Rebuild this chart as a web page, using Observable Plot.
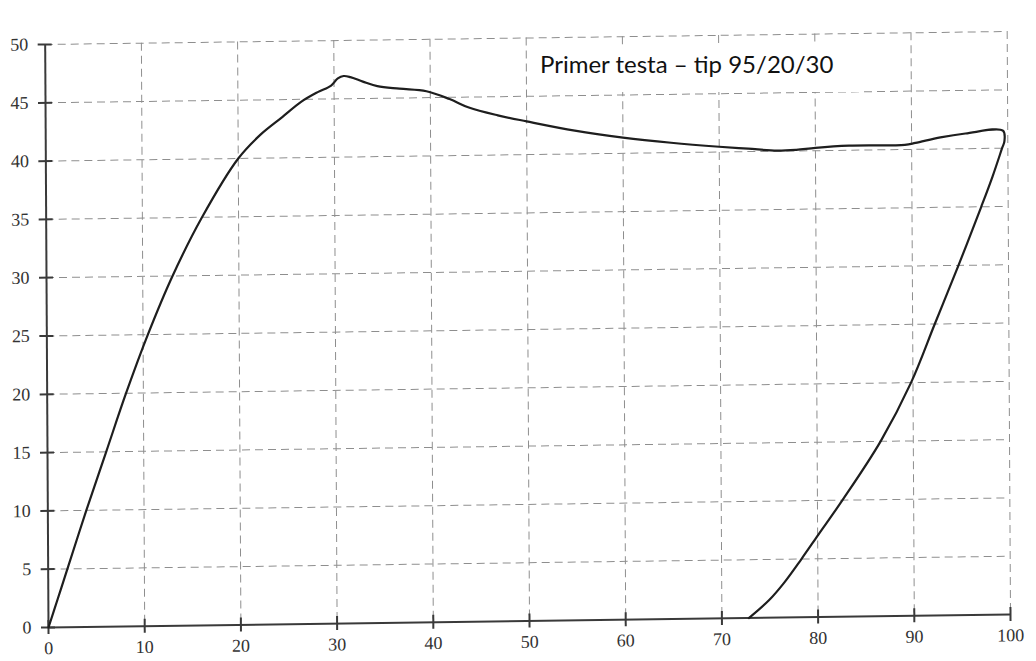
<!DOCTYPE html>
<html>
<head>
<meta charset="utf-8">
<script src="https://cdn.jsdelivr.net/npm/d3@7"></script>
<script src="https://cdn.jsdelivr.net/npm/@observablehq/plot@0.6"></script>
<style>
html, body { margin: 0; padding: 0; background: #fff; }
#wrap { position: relative; width: 1036px; height: 661px; overflow: hidden; }
#wrap svg {
  position: absolute; left: 0; top: 0;
  /* the reference is a slightly skewed scan */
  transform-origin: 48px 627px;
  transform: matrix(1, -0.0135, 0.0057, 1, 0, 0);
}
#note {
  position: absolute; left: 535px; top: 45px; width: 328px; height: 47px;
  background: #fff; z-index: 2; box-sizing: border-box; padding-left: 5px;
  font-family: Lato, "Open Sans", sans-serif; font-size: 24px; line-height: 38px;
  color: #111; white-space: nowrap;
}
</style>
</head>
<body>
<div id="wrap"><div id="note"></div></div>
<script>
// Title of the chart
const title = "Primer testa – tip 95/20/30";

// Axis ticks
const xTicks = [0, 10, 20, 30, 40, 50, 60, 70, 80, 90, 100];
const yTicks = [0, 5, 10, 15, 20, 25, 30, 35, 40, 45, 50];

// Test curve (loading, then unloading back to zero)
const curveX = [0, 1, 2, 4, 6.1, 8.2, 10.5, 13.1, 16.2, 20, 22.3, 24.6, 26.6, 28.3, 29.7, 30.4, 31.0, 31.7, 33.0, 34.5, 36.8, 39.6, 42, 44, 47, 50, 55, 60, 65, 70, 73, 76, 78, 80, 83.5, 89.3, 90.4, 93, 95.6, 99.5, 99.65, 99.4, 98.4, 97.2, 94.8, 92.3, 89.8, 86.6, 82.6, 80.1, 78.3, 76.5, 74.9, 72.8];
const curveY = [0, 2.5, 5, 10, 15, 20, 25, 30, 35, 40, 42.0, 43.5, 44.8, 45.6, 46.15, 46.75, 46.95, 46.85, 46.45, 46.05, 45.8, 45.55, 44.85, 44.1, 43.4, 42.85, 42.0, 41.35, 40.85, 40.45, 40.25, 40.05, 40.1, 40.25, 40.4, 40.4, 40.55, 41.0, 41.3, 41.5, 40.6, 40.0, 37.6, 35, 30, 25, 20, 15, 10, 7.1, 5.0, 3.0, 1.5, 0];

const points = curveX.map((x, i) => ({x, y: curveY[i]}));

const gridStyle = {stroke: "#8e8e8e", strokeOpacity: 1, strokeWidth: 1, strokeDasharray: "8,5"};
const axisColor = "#3a3a3a";
const labelFont = 18;

const chart = Plot.plot({
  width: 1036,
  height: 661,
  marginLeft: 48,
  marginRight: 26,
  marginTop: 44,
  marginBottom: 34,
  style: {background: "#fff", fontFamily: "'Liberation Serif', 'DejaVu Serif', serif", fontSize: "18px", color: "#333"},
  x: {domain: [0, 100], label: null},
  y: {domain: [0, 50], label: null},
  marks: [
    Plot.gridX(xTicks.filter(d => d > 0), gridStyle),
    Plot.gridY(yTicks.filter(d => d > 0), gridStyle),
    Plot.ruleY([0], {stroke: axisColor, strokeWidth: 2}),
    Plot.ruleX([0], {stroke: axisColor, strokeWidth: 2}),
    Plot.axisX(xTicks, {tickSize: 14, dy: -7, tickPadding: 7, stroke: axisColor, strokeWidth: 2, fill: "#333", fontSize: labelFont}),
    Plot.axisY(yTicks, {tickSize: 14, dx: 7, tickPadding: 10, stroke: axisColor, strokeWidth: 2, fill: "#333", fontSize: labelFont}),
    Plot.line(points, {x: "x", y: "y", curve: "catmull-rom", stroke: "#1e1e1e", strokeWidth: 2.2})
  ]
});

document.getElementById("wrap").prepend(chart);
document.getElementById("note").textContent = title;
</script>
</body>
</html>
